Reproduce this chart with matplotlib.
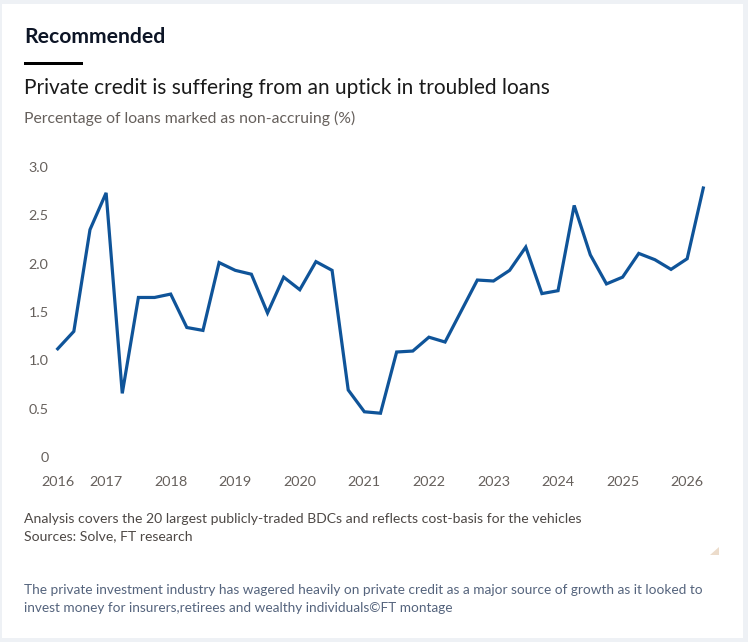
import numpy as np
import matplotlib
matplotlib.use('Agg')
from matplotlib import pyplot as plt
from matplotlib.patches import Rectangle, Polygon

# %% Data.
# Quarterly points, first one in Q2 2016, last one in Q2 2026.
start_year = 2016.25
pct_nonaccrual = [1.12, 1.30, 2.35, 2.73, 0.66, 1.65, 1.65, 1.685, 1.34, 1.31,
                  2.01, 1.93, 1.89, 1.49, 1.86, 1.73, 2.02, 1.93, 0.695, 0.47,
                  0.455, 1.087, 1.097, 1.24, 1.19, 1.51, 1.83, 1.82, 1.93, 2.17,
                  1.69, 1.72, 2.60, 2.09, 1.79, 1.86, 2.105, 2.04, 1.94, 2.05,
                  2.78]
year_labels = ['2016', '2017', '2018', '2019', '2020', '2021', '2022',
               '2023', '2024', '2025', '2026']
y_ticks = [0, 0.5, 1.0, 1.5, 2.0, 2.5, 3.0]
y_labels = ['0', '0.5', '1.0', '1.5', '2.0', '2.5', '3.0']

# %% Figure.
W, H = 748, 642
plt.rcParams['font.family'] = ['Lato', 'DejaVu Sans']
fig = plt.figure(figsize=(W / 100, H / 100), dpi=100)
fig.patch.set_facecolor('#eef1f5')


def fx(px):
    return px / W


def fy(py):
    return 1 - py / H


# White card:
fig.patches.append(Rectangle((fx(2), fy(638)), fx(743) - fx(2), fy(4) - fy(638),
                             transform=fig.transFigure, facecolor='white',
                             edgecolor='none', zorder=0))

# Header:
fig.text(fx(24), fy(42.7), 'Recommended', fontsize=15.2, fontweight='bold',
         color='#0d1526', va='baseline')
fig.patches.append(Rectangle((fx(24), fy(65)), fx(59), 3 / H,
                             transform=fig.transFigure, facecolor='black',
                             edgecolor='none', zorder=1))
fig.text(fx(24), fy(94), 'Private credit is suffering from an uptick in troubled loans',
         fontsize=15.0, color='#1a1a1a', va='baseline')
fig.text(fx(24), fy(123.5), 'Percentage of loans marked as non-accruing (%)',
         fontsize=11.3, color='#66605c', va='baseline')

# %% Chart.
x_q = start_year + np.arange(len(pct_nonaccrual)) * 0.25
ax = fig.add_axes([fx(57.7), fy(457.3), fx(703.3) - fx(57.7), fy(166.7) - fy(457.3)])
ax.set_zorder(3)
ax.plot(x_q, pct_nonaccrual, color='#0f5499', lw=2.3, solid_joinstyle='miter',
        clip_on=False)
ax.set_xlim(x_q[0], x_q[-1])
ax.set_ylim(0, 3)
ax.set_facecolor('none')
for s in ax.spines.values():
    s.set_visible(False)

x_ticks = [x_q[0]] + list(range(2017, 2027))
ax.set_xticks(x_ticks)
ax.set_xticklabels(year_labels)
ax.set_yticks(y_ticks)
ax.set_yticklabels(y_labels)
ax.tick_params(axis='both', length=0, labelsize=10.4, labelcolor='#66605c')
ax.tick_params(axis='x', pad=13.5)
ax.tick_params(axis='y', pad=6.5)

# %% Footer.
fig.text(fx(24), fy(522.7), 'Analysis covers the 20 largest publicly-traded BDCs and '
         'reflects cost-basis for the vehicles', fontsize=10.05, color='#4d4845',
         va='baseline')
fig.text(fx(24), fy(540), 'Sources: Solve, FT research', fontsize=10.05,
         color='#4d4845', va='baseline')
fig.patches.append(Polygon([(fx(710), fy(555)), (fx(719), fy(555)), (fx(719), fy(547))],
                           closed=True, transform=fig.transFigure,
                           facecolor='#ecdccb', edgecolor='none'))
fig.text(fx(24), fy(594), 'The private investment industry has wagered heavily on private '
         'credit as a major source of growth as it looked to', fontsize=9.85,
         color='#55647d', va='baseline')
fig.text(fx(24), fy(611.5), 'invest money for insurers,retirees and wealthy '
         'individuals\u00a9FT montage', fontsize=9.85, color='#55647d', va='baseline')

fig.savefig('out.png', dpi=100, facecolor=fig.get_facecolor())
